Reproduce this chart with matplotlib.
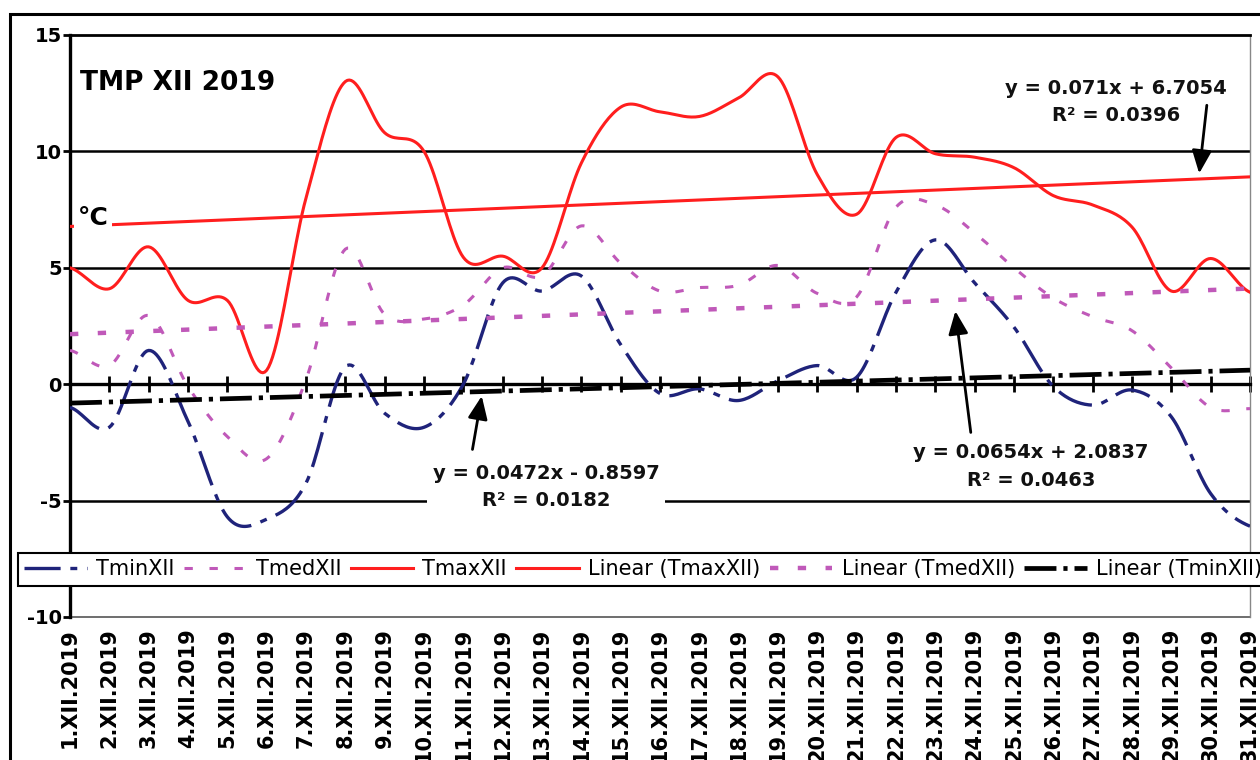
import numpy as np
import matplotlib
matplotlib.use("Agg")
import matplotlib.pyplot as plt
from matplotlib.patches import Rectangle

plt.rcParams["font.family"] = ["DejaVu Sans"]
plt.rcParams["lines.scale_dashes"] = False
plt.rcParams["axes.unicode_minus"] = False

# data (December 2019, daily temperatures)
days = np.arange(1, 32)
day_labels = ["%d.XII.2019" % d for d in days]

tmin = [-1.0, -1.85, 1.45, -1.6, -5.7, -5.8, -4.25, 0.75, -1.25, -1.85,
        0.0, 4.35, 4.0, 4.65, 1.7, -0.4, -0.2, -0.7, 0.15, 0.8,
        0.3, 3.95, 6.2, 4.35, 2.45, -0.1, -0.9, -0.25, -1.4, -4.7, -6.1]
tmed = [1.45, 0.8, 2.95, -0.1, -2.25, -3.2, 0.2, 5.8, 3.0, 2.8,
        3.4, 5.0, 4.65, 6.8, 5.2, 4.0, 4.15, 4.25, 5.1, 3.9,
        3.75, 7.6, 7.7, 6.5, 5.0, 3.7, 2.9, 2.3, 0.7, -1.0, -1.05]
tmax = [5.0, 4.1, 5.9, 3.6, 3.6, 0.6, 8.0, 13.0, 10.8, 10.0,
        5.45, 5.5, 5.0, 9.5, 11.9, 11.7, 11.5, 12.3, 13.2, 9.0,
        7.3, 10.6, 9.9, 9.75, 9.3, 8.1, 7.7, 6.75, 4.0, 5.4, 3.95]

# trend lines as printed on the chart: (slope, intercept, R2)
fit_max = (0.071, 6.7054, 0.0396)
fit_med = (0.0654, 2.0837, 0.0463)
fit_min = (0.0472, -0.8597, 0.0182)

red = "#FF1E1E"
navy = "#1F237A"
magenta = "#C059B9"


def smooth(x, y, n=20):
    # excel-like smoothed line (catmull-rom through the points)
    x = np.asarray(x, float)
    y = np.asarray(y, float)
    xs, ys = [], []
    for i in range(len(x) - 1):
        p0 = y[i - 1] if i > 0 else y[i]
        p1, p2 = y[i], y[i + 1]
        p3 = y[i + 2] if i + 2 < len(y) else y[i + 1]
        t = np.linspace(0, 1, n, endpoint=False)
        yy = 0.5 * (2 * p1 + (-p0 + p2) * t + (2 * p0 - 5 * p1 + 4 * p2 - p3) * t ** 2
                    + (-p0 + 3 * p1 - 3 * p2 + p3) * t ** 3)
        xs.append(x[i] + (x[i + 1] - x[i]) * t)
        ys.append(yy)
    xs.append([x[-1]])
    ys.append([y[-1]])
    return np.concatenate(xs), np.concatenate(ys)


fig = plt.figure(figsize=(12.6, 7.6), dpi=100)
ax = fig.add_axes([70 / 1260, 1 - 617 / 760, 1180 / 1260, 582 / 760])
ax.set_xlim(1, 31)
ax.set_ylim(-10, 15)

# outer chart frame
fig.add_artist(Rectangle((10 / 1260, -0.5), 2, 1 - 14 / 760 + 0.5,
                         transform=fig.transFigure, fill=False, lw=2.2, ec="black"))

for yv in [5, 10, -5]:
    ax.axhline(yv, color="black", lw=1.8, zorder=1)

# series
sx, sy = smooth(days, tmin)
l_min, = ax.plot(sx, sy, color=navy, lw=2.4, ls=(0, (26, 7, 5, 7)), zorder=3, label="TminXII")
sx, sy = smooth(days, tmed)
l_med, = ax.plot(sx, sy, color=magenta, lw=2.2, ls=(0, (6, 12)), zorder=3, label="TmedXII")
sx, sy = smooth(days, tmax)
l_max, = ax.plot(sx, sy, color=red, lw=2.2, zorder=3, label="TmaxXII")

# trend lines
t_max, = ax.plot(days, fit_max[0] * days + fit_max[1], color=red, lw=2.2, zorder=3,
                 label="Linear (TmaxXII)")
t_med, = ax.plot(days, fit_med[0] * days + fit_med[1], color=magenta, lw=3.2,
                 ls=(0, (6, 14)), zorder=3, label="Linear (TmedXII)")
t_min, = ax.plot(days, fit_min[0] * days + fit_min[1], color="black", lw=3.4,
                 ls=(0, (23, 5, 3, 5)), zorder=3, label="Linear (TminXII)")

# axes styling
ax.spines["bottom"].set_position(("data", 0))
ax.spines["bottom"].set_linewidth(2.4)
ax.spines["left"].set_linewidth(2.4)
ax.spines["top"].set_linewidth(2.0)
ax.spines["right"].set_color("#888888")
ax.spines["right"].set_linewidth(1.0)
ax.set_xticks(days)
ax.tick_params(axis="x", direction="inout", length=12, width=2, labelbottom=False)
ax.set_yticks([-10, -5, 0, 5, 10, 15])
ax.tick_params(axis="y", direction="out", length=5, width=2, pad=1,
               labelsize=14)
for lab in ax.get_yticklabels():
    lab.set_fontweight("bold")

sec = ax.secondary_xaxis(0.0)
sec.set_xticks(days, day_labels, rotation=90, fontsize=15, fontweight="bold")
sec.tick_params(length=0, pad=8)
sec.spines["bottom"].set_color("#555555")
sec.spines["bottom"].set_linewidth(1.2)

# titles in the plot
ax.text(1.25, 12.93, "TMP XII 2019", fontsize=19, fontweight="bold", ha="left", va="center")
ax.text(1.585, 7.13, "°C", fontsize=18, fontweight="bold", ha="center", va="center",
        bbox=dict(boxstyle="square,pad=0.15", fc="white", ec="none"), zorder=5)

# trend equations
box = dict(boxstyle="square,pad=0.3", fc="white", ec="none")
eq_kw = dict(fontsize=14, fontweight="bold", ha="center", va="center",
             multialignment="center", linespacing=1.55, bbox=box, zorder=5, color="#111111")
ax.text(27.6, 12.11, "y = %.3fx + %.4f\nR² = %.4f" % fit_max, **eq_kw)
ax.text(25.43, -3.54, "y = %.4fx + %.4f\nR² = %.4f" % fit_med, **eq_kw)
ax.text(13.10, -4.40, "y = %.4fx - %.4f\nR² = %.4f" % (fit_min[0], -fit_min[1], fit_min[2]), **eq_kw)

arrow = dict(arrowstyle="-|>,head_width=0.3,head_length=0.7", lw=2.0, color="black",
             mutation_scale=20)
ax.annotate("", xy=(29.70, fit_max[0] * 29.70 + fit_max[1] + 0.12), xytext=(29.91, 12.1),
            arrowprops=arrow, zorder=6)
ax.annotate("", xy=(23.50, 3.26), xytext=(23.91, -2.19), arrowprops=arrow, zorder=6)
ax.annotate("", xy=(11.48, -0.39), xytext=(11.22, -2.92), arrowprops=arrow, zorder=6)

leg = fig.legend(handles=[l_min, l_med, l_max, t_max, t_med, t_min], ncol=6,
                 loc="upper left", bbox_to_anchor=(18 / 1260, 1 - 553 / 760),
                 fontsize=15, handlelength=3.0, handletextpad=0.45, columnspacing=0.45,
                 borderpad=0.3, borderaxespad=0, fancybox=False, framealpha=1,
                 edgecolor="black")
leg.get_frame().set_linewidth(1.5)

fig.savefig("out.png", dpi=100)
